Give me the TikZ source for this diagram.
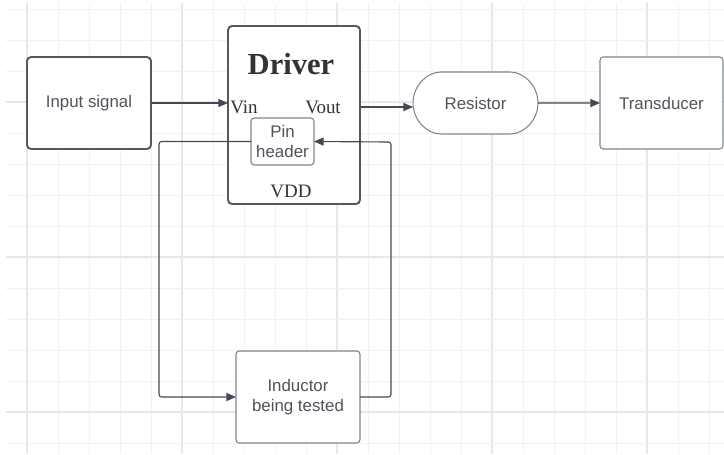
\documentclass[tikz,border=0pt]{standalone}
\usepackage{fontspec}
\setmainfont{Liberation Serif}
\setsansfont{Liberation Sans}
\usetikzlibrary{arrows.meta,positioning,calc,shapes.misc}

\definecolor{wirecol}{HTML}{434A55}
\definecolor{thincol}{HTML}{80858C}
\definecolor{thickcol}{HTML}{55595F}
\definecolor{labelcol}{HTML}{4F545C}
\definecolor{serifcol}{HTML}{333333}
\definecolor{gridminor}{HTML}{F1F1F1}
\definecolor{gridmajor}{HTML}{E7E7E7}

\begin{document}
\begin{tikzpicture}[
    x=0.02cm, y=-0.02cm,
    block/.style={rectangle, draw=thincol, line width=0.6pt, rounded corners=1.8pt, fill=white,
        inner sep=0pt, outer sep=0pt, minimum width=2.48cm, minimum height=1.84cm, align=center,
        text=labelcol, font=\sffamily\fontsize{9.6}{11.3}\selectfont},
    heavy/.style={block, draw=thickcol, line width=1.1pt, rounded corners=2.3pt},
    pinlabel/.style={text=serifcol, font=\fontsize{10.8}{12}\selectfont, inner sep=0pt},
    wire/.style={draw=wirecol, line width=0.65pt, rounded corners=1.5pt, -{Triangle[length=5.5pt, width=4.6pt]}},
]
    \useasboundingbox (0,0) rectangle (724,454);

    % background grid, every fifth line a little darker
    \foreach \k in {0,...,22} {
        \pgfmathsetmacro{\gx}{27+31*\k}
        \pgfmathtruncatemacro{\major}{mod(\k,5)==0}
        \ifnum\major=1
            \draw[gridmajor, line width=0.6pt] (\gx,3) -- (\gx,454);
        \else
            \draw[gridminor, line width=0.55pt] (\gx,3) -- (\gx,454);
        \fi
    }
    \foreach \k in {0,...,14} {
        \pgfmathsetmacro{\gy}{9+31*\k}
        \pgfmathtruncatemacro{\major}{mod(\k,5)==3}
        \ifnum\major=1
            \draw[gridmajor, line width=0.6pt] (6,\gy) -- (724,\gy);
        \else
            \draw[gridminor, line width=0.55pt] (6,\gy) -- (724,\gy);
        \fi
    }

    % blocks
    \node[heavy] (input) at (89,103) {Input signal};
    \node[heavy, minimum width=2.64cm, minimum height=3.56cm] (driver) at (294,115) {};
    \node[block, minimum width=1.26cm, minimum height=0.94cm] (pin) at (282.5,141.5) {Pin\\header};
    \node[block, rounded rectangle, minimum width=2.5cm, minimum height=1.24cm] (resistor) at (475.5,103) {Resistor};
    \node[block, minimum width=2.46cm] (transducer) at (661.5,103) {Transducer};
    \node[block] (inductor) at (298,397) {Inductor\\being tested};

    % driver labels
    \node[text=serifcol, font=\bfseries\fontsize{17.4}{20}\selectfont, inner sep=0pt] (title) at (291,64) {Driver};
    \node[pinlabel] (vin) at (244,107) {Vin};
    \node[pinlabel] (vout) at (323,107) {Vout};
    \node[pinlabel] (vdd) at (291,191) {VDD};

    % loop corners
    \coordinate (loopL) at (159,397);
    \coordinate (loopR) at (391,142);

    % connectors
    \draw[wire] (input.east) -- (input.east -| driver.west);
    \draw[wire] (driver.east |- vout) -- (vout -| resistor.west);
    \draw[wire] (resistor) -- (transducer);
    \draw[wire] (pin.west) -| (loopL) -- (inductor.west);
    \draw[wire] (inductor.east) -| (loopR) -- (pin.east);
\end{tikzpicture}
\end{document}
